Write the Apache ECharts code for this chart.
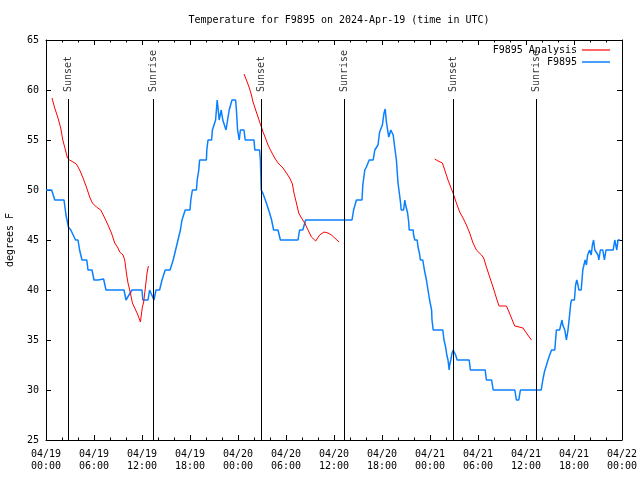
<!DOCTYPE html>
<html>
<head>
<meta charset="utf-8">
<script src="https://cdn.jsdelivr.net/npm/echarts@6/dist/echarts.min.js"></script>
<style>html,body{margin:0;padding:0;background:#fff}#c{width:640px;height:480px}</style>
</head>
<body>
<div id="c"></div>
<script>
// Hours since 04/19 00:00 UTC
var tickLabels = ['04/19\n00:00','04/19\n06:00','04/19\n12:00','04/19\n18:00','04/20\n00:00','04/20\n06:00','04/20\n12:00','04/20\n18:00','04/21\n00:00','04/21\n06:00','04/21\n12:00','04/21\n18:00','04/22\n00:00'];

var obsHours = [0,0.7,1.1,2.25,2.5,2.8,3.1,3.4,3.7,4.0,4.2,4.4,4.5,5.1,5.25,5.75,6.0,6.5,6.7,7.2,7.3,7.5,9.75,10.0,10.25,10.75,12.0,12.1,12.75,12.95,13.2,13.5,13.75,14.2,14.5,14.9,15.5,15.9,16.2,16.5,16.8,17.0,17.4,18.0,18.1,18.3,18.8,18.9,19.1,19.2,20.05,20.1,20.25,20.7,20.8,21.0,21.2,21.3,21.4,21.65,21.9,22.1,22.5,22.7,22.9,23.25,23.7,23.8,23.95,24.15,24.3,24.75,24.9,26.0,26.1,26.7,26.8,26.85,26.9,27.1,27.55,27.95,28.2,28.45,29.0,29.3,31.5,31.7,32.1,32.45,38.25,38.45,38.8,39.5,39.6,39.85,40.05,40.4,40.9,41.1,41.5,41.7,42.05,42.25,42.4,42.55,42.7,42.85,43.1,43.3,43.4,43.6,43.8,44.0,44.2,44.35,44.4,44.7,44.85,44.95,45.2,45.35,45.4,45.9,45.95,46.1,46.4,46.5,46.7,46.8,47.1,47.3,47.55,47.75,47.95,48.2,48.25,48.4,49.6,49.75,49.95,50.1,50.25,50.4,50.45,50.6,50.75,50.9,51.1,51.2,51.4,52.9,53.05,54.9,55.05,55.7,55.9,58.6,58.8,59.1,59.3,61.9,62.1,62.3,62.55,62.75,63.05,63.2,63.6,63.8,64.2,64.5,64.6,64.85,65.05,65.25,65.45,65.6,65.7,66.05,66.2,66.35,66.5,66.6,66.9,67.0,67.1,67.3,67.4,67.55,67.7,67.95,68.15,68.3,68.45,68.6,68.8,69.0,69.1,69.3,69.6,69.8,70.0,70.9,71.1,71.35,71.5,71.75];
var obsTemps = [50,50,49,49,47.5,46.3,46,45.5,45,45,44,44,43,43,42,42,41,41,41.1,41.1,41,40,40,39,39,40,40,39,39,40,40,39,40,40,41,42,42,43,44,45,46,47,48,48,49,50,50,51,52,53,53,54,55,55,56,56,57,58,59,57,58,57,56,57,58,59,59,58,56,55,56,56,55,55,54,54,53,51.5,50,49.7,48.7,47.7,47,46,46,45,45,46,46,47,47,48,49,49,50.5,52,52.3,53,53,54,54.5,55.8,56.5,57.7,58.1,56.8,56,55.3,56,56,55.5,54.2,53,50.7,49.5,48.5,48,48,49,48.5,47.7,46.7,46,46,45.5,45,45,44.3,43.6,43,43,42,41,40,39,38,37,36,36,35,34.3,33.5,33,32,32.5,33,33.7,34,34,33.5,33,33,32,32,31,31,30,30,29,29,30,30,31,31.8,32,33,33.7,34,34,36,36,37,36.5,36,35,36,37.5,38.7,39,39,40.5,41,40.5,40,40,41,42,42.7,43,42.5,43.5,44,43.5,44.5,45,44,44,43.5,43,44,44,43,44,44,45,44,45,45];

// Analysis: three runs separated by null
var anaHours = [0.75,1.09,1.5,1.84,2.1,2.43,2.68,2.96,3.38,3.8,4.21,4.63,5.05,5.46,5.8,6.3,6.84,7.34,7.75,8.18,8.59,9.0,9.21,9.63,9.84,10.05,10.25,10.55,10.8,11.09,11.38,11.63,11.8,12.05,12.21,12.43,12.63,12.8,
  null,
  24.75,25.05,25.38,25.68,25.88,26.21,26.5,26.84,27.13,27.43,27.75,28.18,28.59,29.0,29.63,30.05,30.46,30.8,31.0,31.3,31.59,31.93,32.34,32.75,33.18,33.71,34.21,34.75,35.25,35.68,36.09,36.63,
  null,
  48.59,49.0,49.55,49.84,50.25,50.68,50.88,51.3,51.71,52.13,52.55,52.96,53.38,53.8,54.43,54.71,55.05,55.46,55.88,56.3,56.63,57.13,57.55,57.88,58.18,58.59,59.13,59.63,60.05,60.68];
var anaTemps = [59.2,58.2,57.2,56.2,55,54,53.2,53,52.8,52.6,52,51.2,50.3,49.3,48.7,48.3,48,47.2,46.5,45.7,44.7,44.2,43.8,43.5,43,41.7,40.7,39.7,38.7,38.2,37.7,37.2,36.8,38.3,38.8,40.3,41.7,42.4,
  null,
  61.6,61,60.3,59.5,58.8,58,57.3,56.5,55.8,55.2,54.5,53.8,53.2,52.7,52.2,51.7,51.2,50.6,49.7,48.7,47.7,47.2,46.7,46,45.3,44.9,45.5,45.8,45.7,45.5,45.2,44.8,
  null,
  53.1,52.9,52.7,52,51,50.1,49.7,48.7,47.8,47.2,46.5,45.7,44.7,44,43.5,43.2,42.3,41.3,40.3,39.2,38.4,38.4,38.4,37.8,37.2,36.4,36.3,36.2,35.7,35];

var eventHours = [2.84,13.38,26.88,37.25,50.88,61.25];
var eventNames = ['Sunset','Sunrise','Sunset','Sunrise','Sunset','Sunrise'];
var eventTop = 59.1;

var FONT = 'DejaVu Sans Mono';
function pairs(xs, ys){ return xs.map(function(x,i){ return (x===null||ys[i]===null) ? ['-','-'] : [x, ys[i]]; }); }

var chart = echarts.init(document.getElementById('c'), null, {renderer:'canvas'});
var axisCommon = {
  type:'value', min:0, max:72, interval:6,
  axisLine:{show:true, onZero:false, lineStyle:{color:'#000', width:1}},
  axisTick:{show:true, inside:true, length:5, lineStyle:{color:'#000'}},
  minorTick:{show:true, splitNumber:3, length:2.5, lineStyle:{color:'#000'}},
  splitLine:{show:false}
};
var yCommon = {
  type:'value', min:25, max:65, interval:5,
  axisLine:{show:true, onZero:false, lineStyle:{color:'#000', width:1}},
  axisTick:{show:true, inside:true, length:5, lineStyle:{color:'#000'}},
  splitLine:{show:false}
};
chart.setOption({
  animation:false,
  backgroundColor:'#fff',
  textStyle:{fontFamily:FONT},
  title:{text:'Temperature for F9895 on 2024-Apr-19 (time in UTC)', left:334, top:10, textAlign:'center',
    textStyle:{fontFamily:FONT, fontSize:10, fontWeight:'normal', color:'#000'}},
  legend:[
    {data:['F9895 Analysis'], orient:'vertical', align:'right', right:30, top:45, padding:0, icon:'rect', itemWidth:28, itemHeight:1.2,
      textStyle:{fontFamily:FONT, fontSize:10, color:'#000'}},
    {data:['F9895'], orient:'vertical', align:'right', right:30, top:57, padding:0, icon:'rect', itemWidth:28, itemHeight:1.5,
      textStyle:{fontFamily:FONT, fontSize:10, color:'#000'}}
  ],
  grid:{left:46, right:18, top:40, bottom:40, containLabel:false, outerBoundsMode:'none'},
  xAxis:[
    Object.assign({}, axisCommon, {position:'bottom',
      axisLabel:{show:true, margin:8, color:'#000', fontFamily:FONT, fontSize:10, lineHeight:12,
        formatter:function(v){ return tickLabels[Math.round(v/6)]; }}}),
    Object.assign({}, axisCommon, {position:'top', axisLabel:{show:false}})
  ],
  yAxis:[
    Object.assign({}, yCommon, {position:'left', name:'degrees F', nameLocation:'middle', nameRotate:90, nameGap:31,
      nameTextStyle:{fontFamily:FONT, fontSize:10, color:'#000'},
      axisLabel:{show:true, margin:7, color:'#000', fontFamily:FONT, fontSize:10}}),
    Object.assign({}, yCommon, {position:'right', axisLabel:{show:false}})
  ],
  series:[
    {name:'F9895', type:'line', data:pairs(obsHours, obsTemps), showSymbol:false, symbol:'none',
      lineStyle:{color:'#0a80ff', width:1.5}, itemStyle:{color:'#0a80ff'}, z:2},
    {name:'F9895 Analysis', type:'line', data:pairs(anaHours, anaTemps), showSymbol:false, symbol:'none', connectNulls:false,
      lineStyle:{color:'#ff0000', width:1}, itemStyle:{color:'#ff0000'}, z:3},
    {name:'events', type:'scatter', symbolSize:0, z:4,
      data:eventHours.map(function(h,i){ return {value:[h, eventTop], name:eventNames[i]}; }),
      label:{show:true, formatter:'{b}', rotate:90, position:'top', distance:7, align:'left', verticalAlign:'middle',
        fontFamily:FONT, fontSize:10, color:'#000'},
      markLine:{silent:true, symbol:['none','none'], label:{show:false}, lineStyle:{color:'#000', width:1, type:'solid'},
        data:eventHours.map(function(h){ return [{coord:[h, eventTop]},{coord:[h, 25]}]; })}
    }
  ]
});
</script>
</body>
</html>
